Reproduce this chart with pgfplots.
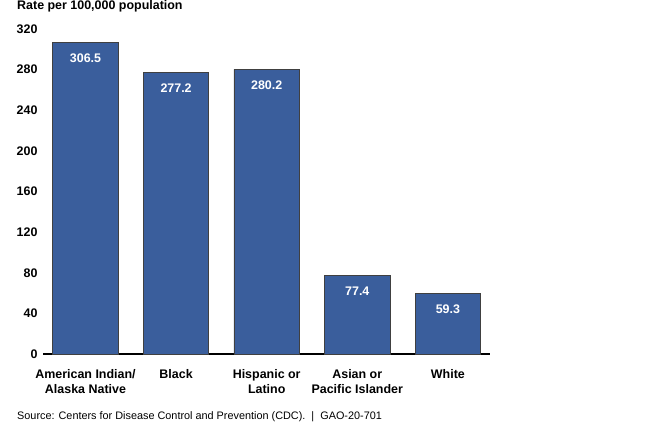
\documentclass[border=0pt]{standalone}
\usepackage{pgfplots}
\pgfplotsset{compat=1.18}
\usepackage{fontspec}
\setmainfont{Liberation Sans}
\definecolor{barblue}{RGB}{58,94,156}
\begin{document}
\begin{tikzpicture}
\useasboundingbox (0,0) rectangle (672bp,426bp);
\begin{axis}[
  at={(43bp,72bp)}, anchor=south west,
  scale only axis, width=447bp, height=325bp,
  xmin=-0.469, xmax=4.465, ymin=0, ymax=320,
  ytick={0,40,...,320},
  xtick=data,
  xticklabels={{American Indian/\\Alaska Native},Black,{Hispanic or\\Latino},{Asian or\\Pacific Islander},White},
  xticklabel style={align=center, font=\fontsize{12.5}{15}\selectfont\bfseries, anchor=north, yshift=-12bp},
  yticklabel style={font=\fontsize{12.5}{15}\selectfont\bfseries, anchor=east, xshift=-2bp},
  /pgf/number format/assume math mode=true,
  major tick length=0pt,
  axis x line*=bottom, axis y line*=left,
  y axis line style={draw=none},
  x axis line style={line width=2.6bp, -},
  ybar, bar width=65.5bp,
  nodes near coords,
  nodes near coords style={anchor=center, yshift=-15.5bp, text=white, font=\fontsize{12.5}{15}\selectfont\bfseries, /pgf/number format/.cd, fixed, fixed zerofill, precision=1},
  clip=false,
]
\addplot[fill=barblue, draw=black!75, line width=0.8bp] coordinates {(0,306.5) (1,277.2) (2,280.2) (3,77.4) (4,59.3)};
\end{axis}
\node[anchor=west, inner sep=0, font=\fontsize{12.5}{15}\selectfont\bfseries] at (17bp,420bp) {Rate per 100,000 population};
\node[anchor=west, inner sep=0, font=\fontsize{10.9}{13}\selectfont] at (17bp,9bp) {Source: Centers for Disease Control and Prevention (CDC).\ \ |\ \ GAO-20-701};
\end{tikzpicture}
\end{document}
